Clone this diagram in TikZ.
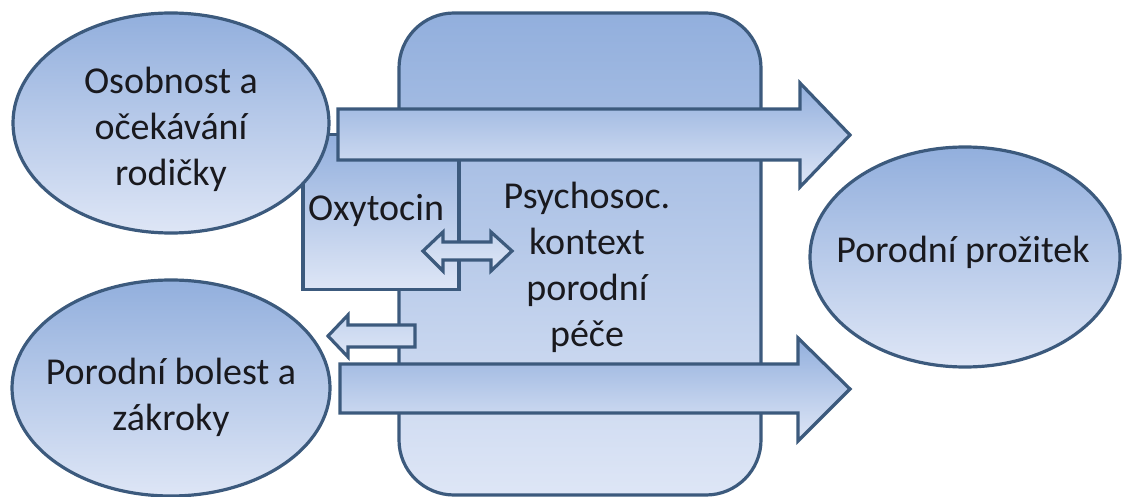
\documentclass[tikz,border=0pt]{standalone}
\usepackage{fontspec}
\setmainfont{Carlito}
\usetikzlibrary{shapes.geometric}

\definecolor{okraj}{RGB}{60,90,125}
\definecolor{horni}{RGB}{146,175,221}
\definecolor{dolni}{RGB}{222,230,246}
\definecolor{svetla}{RGB}{196,212,238}
\definecolor{pismo}{RGB}{25,25,30}

\tikzset{
    vypln/.style={draw=okraj, line width=3.2pt, top color=horni, bottom color=dolni, text=pismo},
    elipsa/.style={vypln, ellipse, inner sep=0pt},
    popis/.style={text=pismo, align=center},
    sipka/.style={vypln, line join=miter},
    malasipka/.style={sipka, top color=svetla, bottom color=dolni},
}

\begin{document}
\begin{tikzpicture}[x=1pt, y=-1pt, font=\fontsize{38}{46}\selectfont]
    \useasboundingbox (0,0) rectangle (1122,497);

    % psychosocialni kontext
    \node[vypln, rounded corners=55pt, inner sep=0pt, minimum width=362pt, minimum height=482pt] (kontext) at (580,254) {};
    \node[vypln, inner sep=0pt, minimum width=156pt, minimum height=155pt] (oxytocin) at (381,212) {};
    \node[popis] (oxytocinText) at (376,210) {Oxytocin};

    % velke sipky
    \path[sipka] (338,109) -- (800,109) -- (800,83) -- (850,135) -- (800,187) -- (800,160) -- (338,160) -- cycle;
    \path[sipka] (340,364) -- (798,364) -- (798,338) -- (850,389) -- (798,441) -- (798,413) -- (340,413) -- cycle;

    % male sipky
    \path[malasipka] (415,325) -- (348,325) -- (348,315) -- (328,336) -- (348,357) -- (348,347) -- (415,347) -- cycle;
    \path[malasipka] (423,251) -- (443,232) -- (443,242) -- (491,242) -- (491,232) -- (512,251)
        -- (491,271) -- (491,260) -- (443,260) -- (443,271) -- cycle;

    \node[popis] (kontextText) at (587,267) {Psychosoc.\\kontext\\porodní\\péče};

    % elipsy
    \node[elipsa, minimum width=316pt, minimum height=220pt] (osobnost) at (171,123) {};
    \node[popis] (osobnostText) at ([yshift=-6pt]osobnost.center) {Osobnost a\\očekávání\\rodičky};
    \node[elipsa, minimum width=318pt, minimum height=216pt] (bolest) at (171,388) {};
    \node[popis] (bolestText) at ([yshift=-9pt]bolest.center) {Porodní bolest a\\zákroky};
    \node[elipsa, minimum width=310pt, minimum height=220pt] (prozitek) at (965,257) {};
    \node[popis] (prozitekText) at (963,252) {Porodní prožitek};
\end{tikzpicture}
\end{document}
